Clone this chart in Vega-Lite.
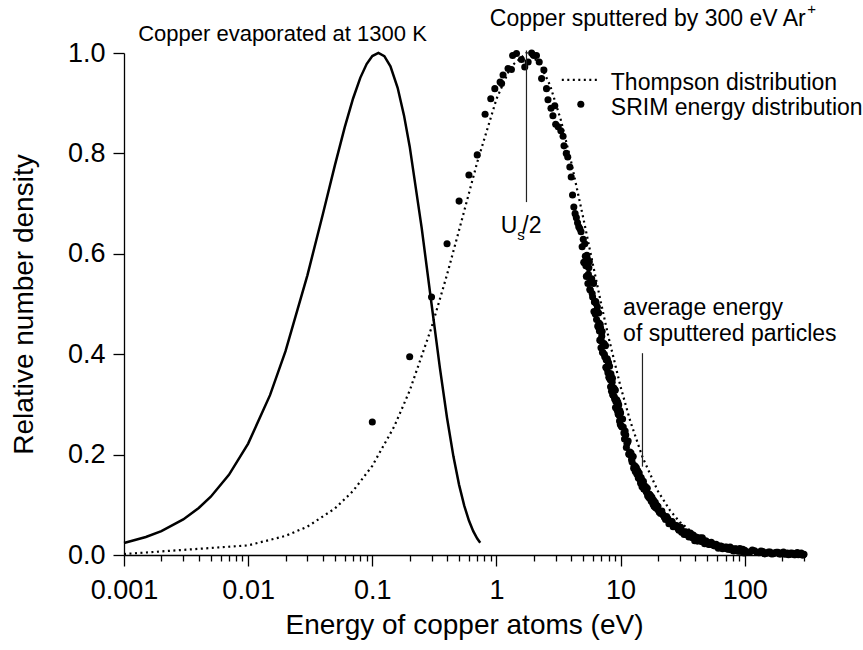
{
  "$schema": "https://vega.github.io/schema/vega-lite/v6.json",
  "width": 680,
  "height": 502,
  "autosize": {"type": "none"},
  "padding": {"left": 124, "top": 53, "right": 59, "bottom": 95},
  "background": "white",
  "config": {
    "view": {"stroke": null},
    "font": "Liberation Sans",
    "axis": {
      "domainColor": "black", "tickColor": "black", "labelColor": "black", "titleColor": "black",
      "labelFont": "Liberation Sans", "titleFont": "Liberation Sans",
      "labelFontSize": 27, "titleFontSize": 28, "titleFontWeight": "normal",
      "grid": false, "domainWidth": 1.3, "tickWidth": 1.3, "ticks": true, "tickOpacity": 1
    },
    "text": {"font": "Liberation Sans", "fontSize": 23, "color": "black"}
  },
  "datasets": {
    "srim": [
      {"e":0.1,"y":0.265},{"e":0.2,"y":0.395},{"e":0.3,"y":0.514},{"e":0.4,"y":0.62},{"e":0.5,"y":0.705},
      {"e":0.6,"y":0.757},{"e":0.7,"y":0.797},{"e":0.81,"y":0.878},{"e":0.9,"y":0.909},{"e":0.97,"y":0.929},
      {"e":1.07,"y":0.942},{"e":1.1,"y":0.939},{"e":1.13,"y":0.956},{"e":1.24,"y":0.969},{"e":1.32,"y":0.967},
      {"e":1.35,"y":0.995},{"e":1.45,"y":0.999},{"e":1.59,"y":0.987},{"e":1.69,"y":0.972},{"e":1.8,"y":0.982},
      {"e":1.92,"y":1.0},{"e":2.0,"y":0.995},{"e":2.1,"y":0.995},{"e":2.21,"y":0.982},{"e":2.31,"y":0.949},
      {"e":2.41,"y":0.966},{"e":2.53,"y":0.929},{"e":2.6,"y":0.907},{"e":2.75,"y":0.89},{"e":2.85,"y":0.875},
      {"e":2.95,"y":0.895},{"e":3.0,"y":0.858},{"e":3.14,"y":0.853},{"e":3.3,"y":0.845},{"e":3.44,"y":0.834},
      {"e":3.5,"y":0.815},{"e":3.65,"y":0.8},{"e":3.75,"y":0.793},{"e":3.9,"y":0.773},{"e":4.0,"y":0.753},
      {"e":4.1,"y":0.717},{"e":4.2,"y":0.693},{"e":4.3,"y":0.68},{"e":4.4,"y":0.672},{"e":4.5,"y":0.662},
      {"e":4.6,"y":0.654},{"e":4.7,"y":0.65},{"e":4.8,"y":0.644},{"e":4.9,"y":0.614},
      {"e":5.0,"y":0.629},{"e":5.1,"y":0.582},{"e":5.2,"y":0.595},{"e":5.3,"y":0.555},{"e":5.4,"y":0.59},
      {"e":5.5,"y":0.559},{"e":5.6,"y":0.584},{"e":5.7,"y":0.528},{"e":5.8,"y":0.549},{"e":5.9,"y":0.521},
      {"e":6.0,"y":0.543},{"e":6.1,"y":0.485},{"e":6.2,"y":0.505},{"e":6.3,"y":0.505},{"e":6.4,"y":0.469},
      {"e":6.5,"y":0.494},{"e":6.6,"y":0.454},{"e":6.7,"y":0.462},{"e":6.8,"y":0.428},{"e":6.9,"y":0.452},
      {"e":7.0,"y":0.426},{"e":7.1,"y":0.445},{"e":7.2,"y":0.403},{"e":7.3,"y":0.42},{"e":7.4,"y":0.4},
      {"e":7.5,"y":0.418},{"e":7.6,"y":0.374},{"e":7.7,"y":0.389},{"e":7.8,"y":0.391},{"e":7.9,"y":0.363},
      {"e":8.0,"y":0.383},{"e":8.1,"y":0.353},{"e":8.2,"y":0.361},{"e":8.3,"y":0.335},{"e":8.4,"y":0.356},
      {"e":8.5,"y":0.337},{"e":8.6,"y":0.352},{"e":8.7,"y":0.318},{"e":8.8,"y":0.332},{"e":8.9,"y":0.315},
      {"e":9.0,"y":0.329},{"e":9.1,"y":0.294},{"e":9.2,"y":0.308},{"e":9.3,"y":0.309},{"e":9.4,"y":0.288},
      {"e":9.5,"y":0.304},{"e":9.6,"y":0.281},{"e":9.7,"y":0.287},{"e":9.8,"y":0.267},{"e":9.9,"y":0.284},
      {"e":5.05,"y":0.583},{"e":5.15,"y":0.62},{"e":5.25,"y":0.576},{"e":5.35,"y":0.597},{"e":5.45,"y":0.541},
      {"e":5.55,"y":0.572},{"e":5.65,"y":0.529},{"e":5.75,"y":0.548},{"e":5.85,"y":0.55},{"e":5.95,"y":0.514},
      {"e":6.05,"y":0.541},{"e":6.15,"y":0.504},{"e":6.25,"y":0.48},{"e":6.35,"y":0.501},{"e":6.45,"y":0.487},
      {"e":6.55,"y":0.456},{"e":6.65,"y":0.482},{"e":6.75,"y":0.446},{"e":6.85,"y":0.459},{"e":6.95,"y":0.413},
      {"e":7.05,"y":0.436},{"e":7.15,"y":0.404},{"e":7.25,"y":0.419},{"e":7.35,"y":0.421},{"e":7.45,"y":0.395},
      {"e":7.55,"y":0.417},{"e":7.65,"y":0.389},{"e":7.75,"y":0.371},{"e":7.85,"y":0.387},{"e":7.95,"y":0.377},
      {"e":8.05,"y":0.354},{"e":8.15,"y":0.376},{"e":8.25,"y":0.349},{"e":8.35,"y":0.361},{"e":8.45,"y":0.326},
      {"e":8.55,"y":0.344},{"e":8.65,"y":0.319},{"e":8.75,"y":0.331},{"e":8.85,"y":0.332},{"e":8.95,"y":0.311},
      {"e":9.05,"y":0.328},{"e":9.15,"y":0.306},{"e":9.25,"y":0.293},{"e":9.35,"y":0.306},{"e":9.45,"y":0.299},
      {"e":9.55,"y":0.281},{"e":9.65,"y":0.299},{"e":9.75,"y":0.278},{"e":9.85,"y":0.288},{"e":9.95,"y":0.26},
      {"e":10.0,"y":0.283},{"e":10.25,"y":0.255},{"e":10.5,"y":0.255},{"e":10.75,"y":0.231},{"e":11.0,"y":0.239},
      {"e":11.25,"y":0.222},{"e":11.5,"y":0.227},{"e":11.75,"y":0.2},{"e":12.0,"y":0.203},{"e":12.25,"y":0.19},
      {"e":12.5,"y":0.196},{"e":12.75,"y":0.173},{"e":13.0,"y":0.177},{"e":13.25,"y":0.175},{"e":13.5,"y":0.1615},
      {"e":13.75,"y":0.168},{"e":14.0,"y":0.153},{"e":14.25,"y":0.1555},{"e":14.5,"y":0.143},{"e":14.75,"y":0.1505},
      {"e":15.0,"y":0.142},{"e":15.25,"y":0.147},{"e":15.5,"y":0.1315},{"e":15.75,"y":0.136},{"e":16.0,"y":0.128},
      {"e":16.25,"y":0.133},{"e":16.5,"y":0.118},{"e":16.75,"y":0.122},{"e":17.0,"y":0.121},{"e":17.25,"y":0.1125},
      {"e":17.5,"y":0.118},{"e":17.75,"y":0.1075},{"e":18.0,"y":0.109},{"e":18.25,"y":0.101},{"e":18.5,"y":0.107},
      {"e":18.75,"y":0.101},{"e":19.0,"y":0.105},{"e":19.25,"y":0.095},{"e":19.5,"y":0.098},{"e":19.75,"y":0.093},
      {"e":10.125,"y":0.257},{"e":10.375,"y":0.271},{"e":10.625,"y":0.243},{"e":10.875,"y":0.247},{"e":11.125,"y":0.214},
      {"e":11.375,"y":0.225},{"e":11.625,"y":0.201},{"e":11.875,"y":0.205},{"e":12.125,"y":0.203},{"e":12.375,"y":0.1854},
      {"e":12.625,"y":0.196},{"e":12.875,"y":0.178},{"e":13.125,"y":0.1662},{"e":13.375,"y":0.1738},{"e":13.625,"y":0.1673},
      {"e":13.875,"y":0.1537},{"e":14.125,"y":0.1634},{"e":14.375,"y":0.1491},{"e":14.625,"y":0.1545},{"e":14.875,"y":0.1361},
      {"e":15.125,"y":0.1449},{"e":15.375,"y":0.1314},{"e":15.625,"y":0.1366},{"e":15.875,"y":0.1362},{"e":16.125,"y":0.1254},
      {"e":16.375,"y":0.133},{"e":16.625,"y":0.1218},{"e":16.875,"y":0.1145},{"e":17.125,"y":0.1203},{"e":17.375,"y":0.1164},
      {"e":17.625,"y":0.1078},{"e":17.875,"y":0.1152},{"e":18.125,"y":0.1051},{"e":18.375,"y":0.1094},{"e":18.625,"y":0.0968},
      {"e":18.875,"y":0.1034},{"e":19.125,"y":0.0943},{"e":19.375,"y":0.0982},{"e":19.625,"y":0.0984},{"e":19.875,"y":0.0908},
      {"e":20,"y":0.0964},{"e":21,"y":0.0829},{"e":22,"y":0.0799},{"e":23,"y":0.0707},{"e":24,"y":0.0728},
      {"e":25,"y":0.0652},{"e":26,"y":0.0666},{"e":27,"y":0.0571},{"e":28,"y":0.0578},{"e":29,"y":0.0522},
      {"e":30,"y":0.0527},{"e":31,"y":0.0451},{"e":32,"y":0.0463},{"e":33,"y":0.0453},{"e":34,"y":0.0405},
      {"e":35,"y":0.0419},{"e":36,"y":0.0376},{"e":37,"y":0.0381},{"e":38,"y":0.0344},{"e":39,"y":0.0365},
      {"e":40,"y":0.0336},{"e":41,"y":0.035},{"e":42,"y":0.0307},{"e":43,"y":0.0317},{"e":44,"y":0.0295},
      {"e":45,"y":0.0306},{"e":46,"y":0.0263},{"e":47,"y":0.0272},{"e":48,"y":0.0268},{"e":49,"y":0.0241},
      {"e":20.5,"y":0.0851},{"e":21.5,"y":0.0876},{"e":22.5,"y":0.0751},{"e":23.5,"y":0.0767},{"e":24.5,"y":0.0622},
      {"e":25.5,"y":0.0668},{"e":26.5,"y":0.0564},{"e":27.5,"y":0.0592},{"e":28.5,"y":0.0584},{"e":29.5,"y":0.0492},
      {"e":30.5,"y":0.055},{"e":31.5,"y":0.0464},{"e":32.5,"y":0.0408},{"e":33.5,"y":0.046},{"e":34.5,"y":0.0428},
      {"e":35.5,"y":0.0358},{"e":36.5,"y":0.0436},{"e":37.5,"y":0.0352},{"e":38.5,"y":0.04},{"e":39.5,"y":0.0286},
      {"e":40.5,"y":0.0359},{"e":41.5,"y":0.0277},{"e":42.5,"y":0.0327},{"e":43.5,"y":0.0341},{"e":44.5,"y":0.0271},
      {"e":45.5,"y":0.0345},{"e":46.5,"y":0.0269},{"e":47.5,"y":0.0223},{"e":48.5,"y":0.0285},{"e":49.5,"y":0.0263},
      {"e":50,"y":0.0255},{"e":52.5,"y":0.021},{"e":55,"y":0.0225},{"e":57.5,"y":0.018},{"e":60,"y":0.0195},
      {"e":62.5,"y":0.0155},{"e":65,"y":0.0175},{"e":67.5,"y":0.0135},{"e":70,"y":0.0155},{"e":72.5,"y":0.0118},
      {"e":75,"y":0.014},{"e":77.5,"y":0.0103},{"e":80,"y":0.0125},{"e":82.5,"y":0.0091},{"e":85,"y":0.0118},
      {"e":87.5,"y":0.0084},{"e":90,"y":0.011},{"e":92.5,"y":0.0076},{"e":95,"y":0.0103},{"e":97.5,"y":0.0069},
      {"e":51.25,"y":0.0208},{"e":53.75,"y":0.0253},{"e":56.25,"y":0.019},{"e":58.75,"y":0.0215},{"e":61.25,"y":0.0135},
      {"e":63.75,"y":0.0181},{"e":66.25,"y":0.0123},{"e":68.75,"y":0.0153},{"e":71.25,"y":0.016},{"e":73.75,"y":0.0113},
      {"e":76.25,"y":0.0161},{"e":78.75,"y":0.011},{"e":81.25,"y":0.008},{"e":83.75,"y":0.0125},{"e":86.25,"y":0.0113},
      {"e":88.75,"y":0.0073},{"e":91.25,"y":0.0129},{"e":93.75,"y":0.0078},{"e":96.25,"y":0.0114},{"e":98.75,"y":0.0042},
      {"e":100,"y":0.0095},{"e":110,"y":0.0059},{"e":120,"y":0.0083},{"e":130,"y":0.0047},{"e":140,"y":0.0071},
      {"e":150,"y":0.0035},{"e":160,"y":0.0061},{"e":170,"y":0.0027},{"e":180,"y":0.0053},{"e":190,"y":0.0019},
      {"e":200,"y":0.0045},{"e":210,"y":0.0014},{"e":220,"y":0.0039},{"e":230,"y":0.001},{"e":240,"y":0.0033},
      {"e":250,"y":0.0006},{"e":260,"y":0.0028},{"e":270,"y":0.0004},{"e":280,"y":0.0024},{"e":290,"y":0.0002},
      {"e":300,"y":0.0015},
      {"e":105,"y":0.0059},{"e":115,"y":0.0098},{"e":125,"y":0.0056},{"e":135,"y":0.008},{"e":145,"y":0.0023},
      {"e":155,"y":0.006},{"e":165,"y":0.002},{"e":175,"y":0.0046},{"e":185,"y":0.0054},{"e":195,"y":0.002},
      {"e":205,"y":0.0059},{"e":215,"y":0.0025},{"e":225,"y":0.0005},{"e":235,"y":0.004},{"e":245,"y":0.0032},
      {"e":255,"y":0.0004},{"e":265,"y":0.0047},{"e":275,"y":0.001},{"e":285,"y":0.0038},{"e":295,"y":0.0}
    ],
    "thompson": [
      {"e":0.001,"y":0.00193},{"e":0.01,"y":0.01918},{"e":0.02,"y":0.03803},{"e":0.03,"y":0.05655},
      {"e":0.05,"y":0.09267},{"e":0.07,"y":0.12755},{"e":0.1,"y":0.17769},{"e":0.15,"y":0.25572},
      {"e":0.2,"y":0.32735},{"e":0.3,"y":0.45314},{"e":0.4,"y":0.55855},{"e":0.5,"y":0.64715},
      {"e":0.7,"y":0.78236},{"e":1.0,"y":0.90828},{"e":1.3,"y":0.9725},{"e":1.745,"y":1.0},
      {"e":2.2,"y":0.98184},{"e":2.7,"y":0.93594},{"e":3.3,"y":0.86668},{"e":4,"y":0.78265},
      {"e":5,"y":0.67174},{"e":6,"y":0.57717},{"e":7,"y":0.49857},{"e":8,"y":0.4336},
      {"e":10,"y":0.3349},{"e":12,"y":0.26545},{"e":15,"y":0.19509},{"e":20,"y":0.12686},
      {"e":25,"y":0.08888},{"e":30,"y":0.06566},{"e":40,"y":0.03998},{"e":50,"y":0.02686},
      {"e":70,"y":0.0145},{"e":100,"y":0.00742},{"e":150,"y":0.00341},{"e":200,"y":0.00195},{"e":300,"y":0.00088}
    ],
    "evap": [
      {"e":0.001,"y":0.02406},{"e":0.0015,"y":0.03592},{"e":0.002,"y":0.04768},{"e":0.003,"y":0.07089},
      {"e":0.004,"y":0.09367},{"e":0.005,"y":0.11605},{"e":0.007,"y":0.1596},{"e":0.01,"y":0.22197},
      {"e":0.015,"y":0.31843},{"e":0.02,"y":0.40604},{"e":0.03,"y":0.55704},{"e":0.04,"y":0.67925},
      {"e":0.05,"y":0.77656},{"e":0.06,"y":0.85222},{"e":0.07,"y":0.90938},{"e":0.08,"y":0.9505},
      {"e":0.09,"y":0.97795},{"e":0.1,"y":0.99383},{"e":0.112,"y":1.0},{"e":0.125,"y":0.99377},
      {"e":0.14,"y":0.9735},{"e":0.16,"y":0.93063},{"e":0.18,"y":0.87572},{"e":0.2,"y":0.81389},
      {"e":0.25,"y":0.65103},{"e":0.3,"y":0.49993},{"e":0.35,"y":0.37322},{"e":0.4,"y":0.27293},
      {"e":0.45,"y":0.19648},{"e":0.5,"y":0.13971},{"e":0.55,"y":0.09835},{"e":0.6,"y":0.06866},
      {"e":0.65,"y":0.04759},{"e":0.7,"y":0.0328},{"e":0.74,"y":0.02426}
    ]
  },
  "resolve": {"axis": {"x": "independent", "y": "independent"}},
  "layer": [
    {
      "data": {"name": "srim"},
      "mark": {"type": "point", "filled": true, "size": 50, "color": "black", "opacity": 1},
      "encoding": {
        "x": {"field": "e", "type": "quantitative",
              "scale": {"type": "log", "domain": [0.001, 300], "nice": false},
              "axis": {"orient": "bottom", "values": [0.001, 0.01, 0.1, 1, 10, 100], "format": "~g",
                       "ticks": true, "tickSize": 11, "labelPadding": 11, "labelFlush": false, "labelOverlap": false,
                       "title": "Energy of copper atoms (eV)", "titlePadding": 8}},
        "y": {"field": "y", "type": "quantitative",
              "scale": {"domain": [0, 1], "nice": false, "zero": true},
              "axis": {"orient": "left", "values": [0, 0.2, 0.4, 0.6, 0.8, 1], "format": ".1f", "ticks": true, "tickSize": 11,
                       "labelPadding": 8, "title": "Relative number density", "titlePadding": 29}}
      }
    },
    {
      "data": {"name": "thompson"},
      "mark": {"type": "line", "color": "black", "strokeWidth": 2.2, "strokeDash": [2, 3.5]},
      "encoding": {
        "x": {"field": "e", "type": "quantitative",
              "axis": {"orient": "bottom", "values": [0.002,0.003,0.004,0.005,0.006,0.007,0.008,0.009,0.02,0.03,0.04,0.05,0.06,0.07,0.08,0.09,0.2,0.3,0.4,0.5,0.6,0.7,0.8,0.9,2,3,4,5,6,7,8,9,20,30,40,50,60,70,80,90,200,300],
                       "ticks": true, "tickSize": 6, "labels": false, "domain": false, "title": null}},
        "y": {"field": "y", "type": "quantitative", "axis": null}
      }
    },
    {
      "data": {"name": "evap"},
      "mark": {"type": "line", "color": "black", "strokeWidth": 2.5},
      "encoding": {
        "x": {"field": "e", "type": "quantitative", "axis": null},
        "y": {"field": "y", "type": "quantitative", "axis": null}
      }
    },
    {
      "data": {"values": [{}]},
      "mark": {"type": "rule", "color": "#222222", "strokeWidth": 1.2},
      "encoding": {
        "x": {"datum": 1.745, "type": "quantitative", "axis": null},
        "y": {"datum": 1.005, "type": "quantitative", "axis": null},
        "y2": {"datum": 0.703}
      }
    },
    {
      "data": {"values": [{}]},
      "mark": {"type": "rule", "color": "#222222", "strokeWidth": 1.2},
      "encoding": {
        "x": {"datum": 15, "type": "quantitative", "axis": null},
        "y": {"datum": 0.402, "type": "quantitative", "axis": null},
        "y2": {"datum": 0.176}
      }
    },
    {
      "data": {"values": [{}]},
      "mark": {"type": "rule", "color": "black", "strokeWidth": 2.2, "strokeDash": [2, 3.5]},
      "encoding": {
        "x": {"datum": 3.36, "type": "quantitative", "axis": null},
        "x2": {"datum": 6.8},
        "y": {"datum": 0.9466, "type": "quantitative", "axis": null}
      }
    },
    {
      "data": {"values": [{}]},
      "mark": {"type": "point", "filled": true, "size": 50, "color": "black", "opacity": 1},
      "encoding": {
        "x": {"datum": 4.78, "type": "quantitative", "axis": null},
        "y": {"datum": 0.898, "type": "quantitative", "axis": null}
      }
    },
    {
      "data": {"values": [{}]},
      "mark": {"type": "text", "align": "left", "baseline": "alphabetic", "text": "Thompson distribution"},
      "encoding": {
        "x": {"datum": 8.34, "type": "quantitative", "axis": null},
        "y": {"datum": 0.9257, "type": "quantitative", "axis": null}
      }
    },
    {
      "data": {"values": [{}]},
      "mark": {"type": "text", "align": "left", "baseline": "alphabetic", "text": "SRIM energy distribution"},
      "encoding": {
        "x": {"datum": 8.34, "type": "quantitative", "axis": null},
        "y": {"datum": 0.876, "type": "quantitative", "axis": null}
      }
    },
    {
      "data": {"values": [{}]},
      "mark": {"type": "text", "align": "left", "baseline": "alphabetic", "fontSize": 22, "text": "Copper evaporated at 1300 K"},
      "encoding": {
        "x": {"datum": 0.0013, "type": "quantitative", "axis": null},
        "y": {"datum": 1.024, "type": "quantitative", "axis": null}
      }
    },
    {
      "data": {"values": [{}]},
      "mark": {"type": "text", "align": "left", "baseline": "alphabetic", "text": "Copper sputtered by 300 eV Ar"},
      "encoding": {
        "x": {"datum": 0.885, "type": "quantitative", "axis": null},
        "y": {"datum": 1.0532, "type": "quantitative", "axis": null}
      }
    },
    {
      "data": {"values": [{}]},
      "mark": {"type": "text", "align": "left", "baseline": "alphabetic", "fontSize": 15, "text": "+"},
      "encoding": {
        "x": {"datum": 318.5, "type": "quantitative", "axis": null},
        "y": {"datum": 1.078, "type": "quantitative", "axis": null}
      }
    },
    {
      "data": {"values": [{}]},
      "mark": {"type": "text", "align": "right", "baseline": "alphabetic", "dx": -9, "text": "U"},
      "encoding": {
        "x": {"datum": 1.745, "type": "quantitative", "axis": null},
        "y": {"datum": 0.6405, "type": "quantitative", "axis": null}
      }
    },
    {
      "data": {"values": [{}]},
      "mark": {"type": "text", "align": "left", "baseline": "alphabetic", "dx": -9.2, "fontSize": 15, "text": "s"},
      "encoding": {
        "x": {"datum": 1.745, "type": "quantitative", "axis": null},
        "y": {"datum": 0.627, "type": "quantitative", "axis": null}
      }
    },
    {
      "data": {"values": [{}]},
      "mark": {"type": "text", "align": "left", "baseline": "alphabetic", "dx": -4.2, "text": "/2"},
      "encoding": {
        "x": {"datum": 1.745, "type": "quantitative", "axis": null},
        "y": {"datum": 0.6405, "type": "quantitative", "axis": null}
      }
    },
    {
      "data": {"values": [{}]},
      "mark": {"type": "text", "align": "left", "baseline": "alphabetic", "lineHeight": 25.7,
               "text": ["average energy", "of sputtered particles"]},
      "encoding": {
        "x": {"datum": 10.47, "type": "quantitative", "axis": null},
        "y": {"datum": 0.4778, "type": "quantitative", "axis": null}
      }
    }
  ]
}
